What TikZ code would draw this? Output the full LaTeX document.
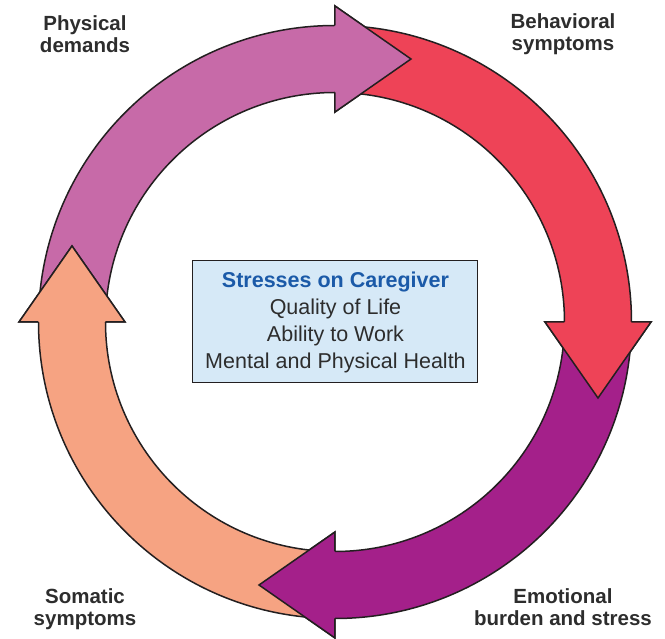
\documentclass[tikz,border=0pt]{standalone}
\usepackage{fontspec}
\setmainfont{Liberation Sans}
\usetikzlibrary{calc}
\definecolor{cPurple}{RGB}{199,106,168}
\definecolor{cRed}{RGB}{238,67,87}
\definecolor{cMag}{RGB}{164,32,138}
\definecolor{cOrange}{RGB}{246,163,130}
\definecolor{cBox}{RGB}{214,233,247}
\definecolor{cTitle}{RGB}{27,90,168}
\definecolor{cText}{RGB}{45,45,45}
\definecolor{cLine}{RGB}{35,31,32}
\begin{document}
\begin{tikzpicture}[x=1pt,y=1pt,
  arrowline/.style={draw=cLine,line width=1.5pt,line join=miter},
  lbl/.style={font=\bfseries\fontsize{20.5}{22}\selectfont,text=cText,align=center,anchor=base,inner sep=0pt}]
\useasboundingbox (-335,-317) rectangle (330,322);
\def\Ro{296.5}\def\Ri{229.5}\def\Rm{263}\def\Rho{316}\def\Rhi{210}\def\HL{76}
% full arrows (band + head)
\foreach \a/\b/\c in {178/90/cPurple, 88/0/cRed, -2/-90/cMag, -92/-180/cOrange}{
  \path[arrowline,fill=\c] (\a:\Ro) arc[start angle=\a,end angle=\b,radius=\Ro]
    -- (\b:\Rho) -- ($(\b:\Rm)+({\b-90}:\HL)$) -- (\b:\Rhi) -- (\b:\Ri)
    arc[start angle=\b,end angle=\a,radius=\Ri] -- cycle;
}
% heads redrawn on top of the following band
\foreach \b/\c in {90/cPurple, 0/cRed, -90/cMag, -180/cOrange}{
  \fill[\c] (\b:\Rho) -- ($(\b:\Rm)+({\b-90}:\HL)$) -- (\b:\Rhi) -- cycle;
  \draw[arrowline] (\b:\Ro) -- (\b:\Rho) -- ($(\b:\Rm)+({\b-90}:\HL)$) -- (\b:\Rhi) -- (\b:\Ri);
}
\node[draw=cLine,line width=1pt,fill=cBox,minimum width=285pt,minimum height=122pt,
  align=center,font=\fontsize{21.5}{27}\selectfont,text=cText] (box) at (0.5,0)
  {{\bfseries\color{cTitle}Stresses on Caregiver}\\Quality of Life\\Ability to Work\\Mental and Physical Health};
\node[lbl] (phys) at (-250,269) {Physical\\demands};
\node[lbl] (behav) at (228,271) {Behavioral\\symptoms};
\node[lbl] (soma) at (-250,-304) {Somatic\\symptoms};
\node[lbl] (emot) at (228,-304) {Emotional\\burden and stress};
\end{tikzpicture}
\end{document}
